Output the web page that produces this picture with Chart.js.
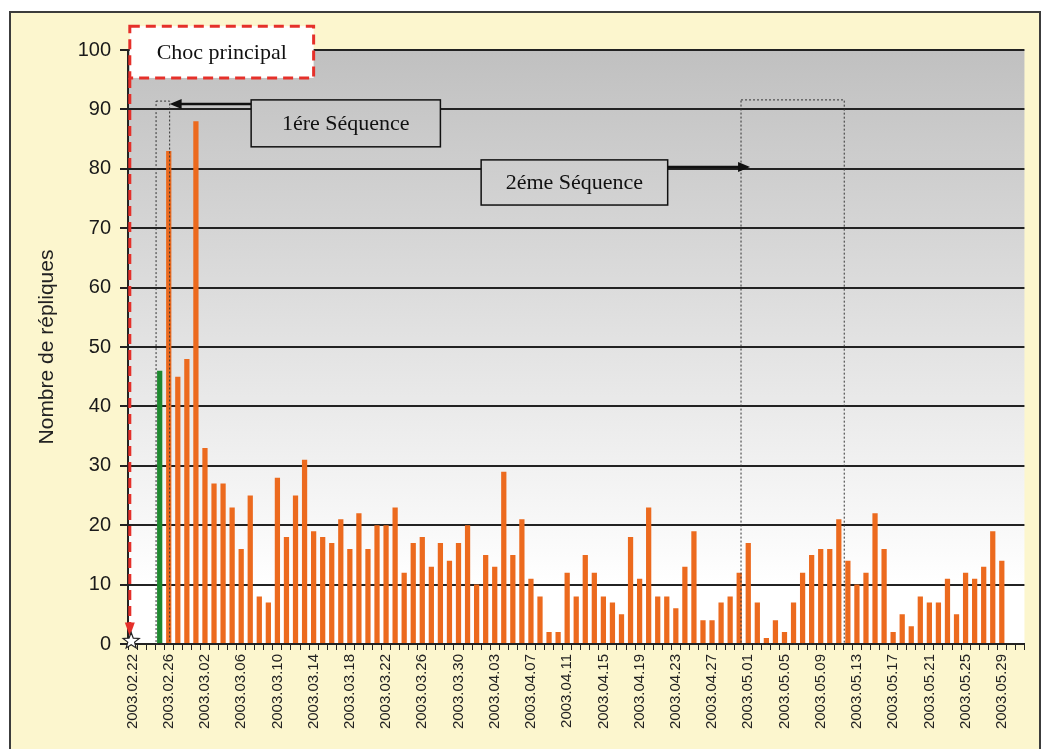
<!DOCTYPE html>
<html>
<head>
<meta charset="utf-8">
<script src="https://cdn.jsdelivr.net/npm/chart.js@4.4.1/dist/chart.umd.min.js"></script>
<style>
  html, body { margin: 0; padding: 0; background: #fff; }
  canvas { display: block; }
</style>
</head>
<body>
<canvas id="c" width="1042" height="749"></canvas>
<script>
// daily categories 2003.02.22 -> 2003.05.31
const firstDay = Date.UTC(2003, 1, 22);
const dayCount = 99;
const days = [];
for (let i = 0; i < dayCount; i++) {
  const d = new Date(firstDay + i * 86400000);
  days.push(d.getUTCFullYear() + '.' + String(d.getUTCMonth() + 1).padStart(2, '0') + '.' + String(d.getUTCDate()).padStart(2, '0'));
}

const tickLabels = [
  '2003.02.22', '2003.02.26', '2003.03.02', '2003.03.06', '2003.03.10', '2003.03.14',
  '2003.03.18', '2003.03.22', '2003.03.26', '2003.03.30', '2003.04.03', '2003.04.07',
  '2003.04.11', '2003.04.15', '2003.04.19', '2003.04.23', '2003.04.27', '2003.05.01',
  '2003.05.05', '2003.05.09', '2003.05.13', '2003.05.17', '2003.05.21', '2003.05.25',
  '2003.05.29'
];

// number of aftershocks per day
const replies = [
  0, 0, 0, 46, 83, 45, 48,                              // 02.22 - 02.28
  88, 33, 27, 27, 23, 16, 25, 8, 7, 28,                 // 03.01 - 03.10
  18, 25, 31, 19, 18, 17, 21, 16, 22, 16,               // 03.11 - 03.20
  20, 20, 23, 12, 17, 18, 13, 17, 14, 17, 20,           // 03.21 - 03.31
  10, 15, 13, 29, 15, 21, 11, 8, 2, 2,                  // 04.01 - 04.10
  12, 8, 15, 12, 8, 7, 5, 18, 11, 23,                   // 04.11 - 04.20
  8, 8, 6, 13, 19, 4, 4, 7, 8, 12,                      // 04.21 - 04.30
  17, 7, 1, 4, 2, 7, 12, 15, 16, 16,                    // 05.01 - 05.10
  21, 14, 10, 12, 22, 16, 2, 5, 3, 8,                   // 05.11 - 05.20
  7, 7, 11, 5, 12, 11, 13, 19, 14, 0, 0                 // 05.21 - 05.31
];

const greenDay = '2003.02.25';
const yTicks = [0, 10, 20, 30, 40, 50, 60, 70, 80, 90, 100];

const ORANGE = '#EC6A1E';
const GREEN = '#1E8A30';

const decor = {
  id: 'decor',
  beforeDraw(chart) {
    const { ctx, chartArea: a } = chart;
    ctx.save();
    ctx.fillStyle = '#FCF6CE';
    ctx.fillRect(10, 12, 1030, 760);
    ctx.strokeStyle = '#3c3c3c';
    ctx.lineWidth = 2;
    ctx.strokeRect(10, 12, 1030, 760);
    const g = ctx.createLinearGradient(0, a.top, 0, a.bottom);
    g.addColorStop(0, '#C0C0C0');
    g.addColorStop(0.9, '#FFFFFF');
    g.addColorStop(1, '#FFFFFF');
    chart.$plotGradient = g;
    ctx.fillStyle = g;
    ctx.fillRect(a.left, a.top, a.right - a.left, a.bottom - a.top);
    ctx.restore();
  },
  afterDraw(chart) {
    const { ctx } = chart;
    const x = chart.scales.x, y = chart.scales.y;
    const px = i => x.getPixelForValue(i);
    const py = v => y.getPixelForValue(v);
    ctx.save();

    // dotted sequence frames
    ctx.strokeStyle = '#333';
    ctx.lineWidth = 1;
    ctx.setLineDash([2, 2]);
    ctx.strokeRect(px(2.6), py(91.4), px(4.1) - px(2.6), py(0) - py(91.4));
    ctx.strokeRect(px(67.2), py(91.6), px(78.6) - px(67.2), py(0) - py(91.6));
    ctx.setLineDash([]);

    // arrows
    ctx.strokeStyle = '#111';
    ctx.fillStyle = '#111';
    ctx.lineWidth = 2.5;
    let ay = py(90.9);
    ctx.beginPath(); ctx.moveTo(px(13.1), ay); ctx.lineTo(px(4.1) + 10, ay); ctx.stroke();
    ctx.beginPath(); ctx.moveTo(px(4.1), ay); ctx.lineTo(px(4.1) + 12, ay - 5); ctx.lineTo(px(4.1) + 12, ay + 5); ctx.closePath(); ctx.fill();
    ay = py(80.3);
    ctx.beginPath(); ctx.moveTo(px(59.1), ay); ctx.lineTo(px(68.2) - 10, ay); ctx.stroke();
    ctx.beginPath(); ctx.moveTo(px(68.2), ay); ctx.lineTo(px(68.2) - 12, ay - 5); ctx.lineTo(px(68.2) - 12, ay + 5); ctx.closePath(); ctx.fill();

    // labelled boxes
    const box = (i0, i1, v0, v1, text, fill, stroke, dash, lw) => {
      const l = px(i0), r = px(i1), t = py(v0), b = py(v1);
      ctx.fillStyle = fill;
      ctx.fillRect(l, t, r - l, b - t);
      ctx.strokeStyle = stroke;
      ctx.lineWidth = lw;
      ctx.setLineDash(dash);
      ctx.strokeRect(l, t, r - l, b - t);
      ctx.setLineDash([]);
      ctx.fillStyle = '#111';
      ctx.font = '22px "Liberation Serif", "Times New Roman", serif';
      ctx.textAlign = 'center';
      ctx.textBaseline = 'middle';
      ctx.fillText(text, (l + r) / 2, (t + b) / 2 + 1);
    };
    box(13.1, 34.0, 91.6, 83.7, '1ére Séquence', chart.$plotGradient, '#111', [], 1.5);
    box(38.5, 59.1, 81.5, 73.9, '2éme Séquence', chart.$plotGradient, '#111', [], 1.5);
    box(-0.3, 20.0, 104.0, 95.3, 'Choc principal', '#FFFFFF', '#E5302A', [10, 6], 3);

    // main shock marker: red dashed line with arrow, star at origin
    const lx = px(-0.3);
    ctx.strokeStyle = '#E5302A';
    ctx.lineWidth = 3;
    ctx.setLineDash([10, 6]);
    ctx.beginPath(); ctx.moveTo(lx, py(95.3)); ctx.lineTo(lx, py(3)); ctx.stroke();
    ctx.setLineDash([]);
    ctx.fillStyle = '#E5302A';
    ctx.beginPath(); ctx.moveTo(lx, py(1.3)); ctx.lineTo(lx - 5, py(3.6)); ctx.lineTo(lx + 5, py(3.6)); ctx.closePath(); ctx.fill();

    const sx = px(-0.15), sy = py(0.5);
    ctx.beginPath();
    for (let k = 0; k < 10; k++) {
      const rr = k % 2 === 0 ? 8.5 : 3.6;
      const ang = -Math.PI / 2 + k * Math.PI / 5;
      const xx = sx + rr * Math.cos(ang), yy = sy + rr * Math.sin(ang);
      if (k === 0) ctx.moveTo(xx, yy); else ctx.lineTo(xx, yy);
    }
    ctx.closePath();
    ctx.fillStyle = '#fff';
    ctx.fill();
    ctx.strokeStyle = '#222';
    ctx.lineWidth = 1.2;
    ctx.stroke();
    ctx.restore();
  }
};

new Chart(document.getElementById('c'), {
  type: 'bar',
  data: {
    labels: days,
    datasets: [{
      label: 'Nombre de répliques',
      data: replies,
      backgroundColor: days.map(d => d === greenDay ? GREEN : ORANGE),
      categoryPercentage: 1,
      barPercentage: 0.58
    }]
  },
  options: {
    responsive: false,
    animation: false,
    events: [],
    layout: { padding: { left: 10, right: 17, top: 50, bottom: 0 } },
    plugins: { legend: { display: false }, tooltip: { enabled: false } },
    scales: {
      x: {
        offset: true,
        grid: { display: true, drawOnChartArea: false, drawTicks: true, tickLength: 6, color: '#222', lineWidth: 1, offset: true },
        border: { display: true, color: '#222', width: 2 },
        ticks: {
          autoSkip: false,
          maxRotation: 90,
          minRotation: 90,
          padding: 4,
          color: '#222',
          font: { family: '"Liberation Sans", Arial, sans-serif', size: 15 },
          callback: (v, i) => tickLabels.includes(days[i]) ? days[i] : ''
        },
        afterFit: s => { s.height = 105; }
      },
      y: {
        min: 0,
        max: 100,
        afterBuildTicks: s => { s.ticks = yTicks.map(v => ({ value: v })); },
        grid: { color: '#222', lineWidth: 2, drawTicks: true, tickLength: 8 },
        border: { display: true, color: '#222', width: 2 },
        ticks: {
          padding: 9,
          color: '#1a1a1a',
          font: { family: '"Liberation Sans", Arial, sans-serif', size: 20 }
        },
        title: {
          display: true,
          text: 'Nombre de répliques',
          color: '#222',
          font: { family: '"Liberation Sans", Arial, sans-serif', size: 21 },
          padding: { top: 25, bottom: 0 }
        },
        afterFit: s => { s.width = 118; }
      }
    }
  },
  plugins: [decor]
});
</script>
</body>
</html>
